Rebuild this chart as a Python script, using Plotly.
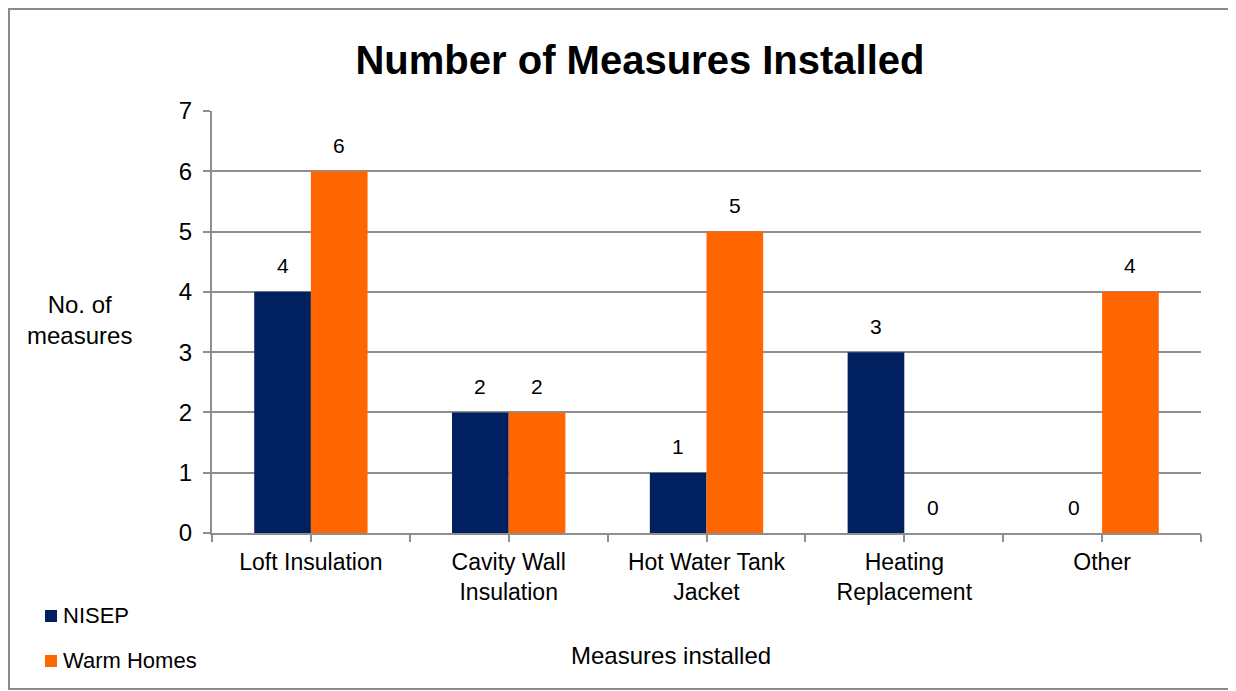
import plotly.graph_objects as go

categories = ["Loft Insulation", "Cavity Wall<br>Insulation", "Hot Water Tank<br>Jacket",
              "Heating<br>Replacement", "Other"]
series_names = ["NISEP", "Warm Homes"]
nisep = [4, 2, 1, 3, 0]
warm_homes = [6, 2, 5, 0, 4]
y_ticks = [0, 1, 2, 3, 4, 5, 6, 7]
colors = ["#002060", "#FF6600"]

FONT = "Liberation Sans, Arial, sans-serif"
OFF = 8  # page body margin
W, H = 1236 - OFF, 691 - OFF
L, R, T, B = 212 - OFF, 35, 111 - OFF, 158
PW, PH = W - L - R, H - T - B


def px(xp):
    return (xp - OFF - L) / PW


def py(yp):
    return (H - B - (yp - OFF)) / PH


bargap = 0.427
bar_w = (1 - bargap) / 2
xs = list(range(len(categories)))

fig = go.Figure()
for name, vals, col in zip(series_names, [nisep, warm_homes], colors):
    fig.add_trace(go.Bar(x=xs, y=vals, name=name, marker=dict(color=col, line=dict(width=0)),
                         showlegend=False))

annotations = []
# data labels
for k, vals in enumerate([nisep, warm_homes]):
    off = (k - 0.5) * bar_w
    for i, v in enumerate(vals):
        annotations.append(dict(x=i + off, y=v, xref="x", yref="y", text=str(v), showarrow=False,
                                yanchor="middle", yshift=26,
                                font=dict(family=FONT, size=21, color="black")))

# tick positions: boundaries and centers
tickvals = []
ticktext = []
for i, c in enumerate(categories):
    tickvals += [i - 0.5, i]
    ticktext += ["", c]
tickvals.append(len(categories) - 0.5)
ticktext.append("")

# titles
annotations.append(dict(x=px(79), y=py(320), xref="paper", yref="paper", text="No. of<br>measures",
                        showarrow=False, align="center", xanchor="center", yanchor="middle",
                        font=dict(family=FONT, size=24, color="black")))
annotations.append(dict(x=px(671), y=py(655), xref="paper", yref="paper", text="Measures installed",
                        showarrow=False, xanchor="center", yanchor="middle",
                        font=dict(family=FONT, size=24, color="black")))

shapes = []
# legend
leg_y = [616, 661]
for name, col, cy in zip(series_names, colors, leg_y):
    shapes.append(dict(type="rect", xref="paper", yref="paper", x0=px(45), x1=px(57),
                       y0=py(cy - 6), y1=py(cy + 6), fillcolor=col, line=dict(width=0)))
    annotations.append(dict(x=px(61), y=py(cy - 1), xref="paper", yref="paper", text=name,
                            showarrow=False, xanchor="left", yanchor="middle",
                            font=dict(family=FONT, size=22, color="black")))

# outer border
shapes.append(dict(type="rect", xref="paper", yref="paper", x0=px(OFF + 1), x1=px(1235),
                   y0=py(689), y1=py(OFF + 1), line=dict(color="#8a8a8a", width=2),
                   fillcolor="rgba(0,0,0,0)", layer="below"))

fig.update_layout(
    width=W, height=H,
    margin=dict(l=L, r=R, t=T, b=B),
    paper_bgcolor="white", plot_bgcolor="white",
    barmode="group", bargap=bargap, bargroupgap=0,
    title=dict(text="<b>Number of Measures Installed</b>", x=(640 - OFF) / W, xanchor="center",
               y=1 - (60 - OFF) / H, yanchor="middle",
               font=dict(family=FONT, size=40, color="black")),
    annotations=annotations,
    shapes=shapes,
    xaxis=dict(range=[-0.5, len(categories) - 0.5], tickmode="array", tickvals=tickvals,
               ticktext=ticktext, showgrid=False, zeroline=False, showline=True,
               linecolor="#8e8e8e", linewidth=2, ticks="outside", ticklen=7, tickcolor="#8e8e8e",
               tickwidth=2, tickfont=dict(family=FONT, size=23, color="black"), fixedrange=True),
    yaxis=dict(range=[0, 7], tickmode="array", tickvals=y_ticks, showgrid=True,
               gridcolor="#8e8e8e", gridwidth=2, zeroline=False, showline=True,
               linecolor="#8e8e8e", linewidth=2, ticks="outside", ticklen=7, tickcolor="#8e8e8e",
               tickwidth=2, ticklabelstandoff=6,
               tickfont=dict(family=FONT, size=24, color="black"), fixedrange=True),
    showlegend=False,
)

fig.write_html("out.html")
